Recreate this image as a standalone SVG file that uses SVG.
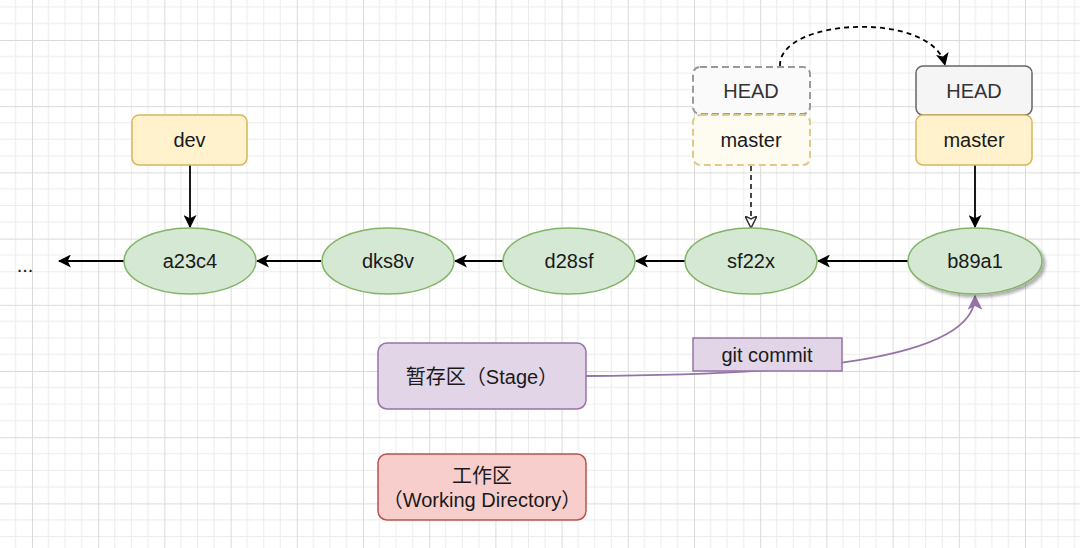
<svg xmlns="http://www.w3.org/2000/svg" width="1080" height="548" viewBox="0 0 1080 548">
<defs>
<pattern id="grid" patternUnits="userSpaceOnUse" x="32" y="40" width="66.2" height="66.2">
<path d="M16.55 0V66.2M33.1 0V66.2M49.65 0V66.2M0 16.55H66.2M0 33.1H66.2M0 49.65H66.2" stroke="#ececec" stroke-width="1" fill="none"/>
<path d="M0.5 0V66.2M0 0.5H66.2" stroke="#dadada" stroke-width="1" fill="none"/>
</pattern>
<marker id="arr" viewBox="0 0 12 12" refX="11" refY="6" markerWidth="13" markerHeight="13" markerUnits="userSpaceOnUse" orient="auto">
<path d="M0 0L12 6L0 12L3 6Z" fill="#000"/>
</marker>
<marker id="arrP" viewBox="0 0 12 12" refX="11" refY="6" markerWidth="15" markerHeight="15" markerUnits="userSpaceOnUse" orient="auto">
<path d="M0 0L12 6L0 12L3 6Z" fill="#9673a6"/>
</marker>
<marker id="arrO" viewBox="0 0 12 12" refX="11" refY="6" markerWidth="12" markerHeight="12" markerUnits="userSpaceOnUse" orient="auto">
<path d="M0 0L12 6L0 12L3 6Z" fill="#fff" stroke="#333" stroke-width="1.5"/>
</marker>
<filter id="shadow" x="-20%" y="-20%" width="140%" height="160%">
<feDropShadow dx="3" dy="3" stdDeviation="1.5" flood-color="#000" flood-opacity="0.3"/>
</filter>
</defs>
<style>
text{font-family:"Liberation Sans",Arial,"Noto Sans CJK SC",sans-serif;font-size:20px;fill:#1a1a1a;text-anchor:middle;dominant-baseline:central}
.commit{fill:#d5e8d4;stroke:#82b366;stroke-width:1.5}
.branch{fill:#fff2cc;stroke:#d6b656;stroke-width:1.5}
.head{fill:#f5f5f5;stroke:#666;stroke-width:1.5}
.edge{stroke:#000;stroke-width:1.8;fill:none}
</style>
<rect width="1080" height="548" fill="#fff"/>
<rect width="1080" height="548" fill="url(#grid)"/>
<g id="connectors">
<path class="edge" d="M124 261H59" marker-end="url(#arr)"/>
<path class="edge" d="M321 261H257" marker-end="url(#arr)"/>
<path class="edge" d="M503 261H455" marker-end="url(#arr)"/>
<path class="edge" d="M685 261H636" marker-end="url(#arr)"/>
<path class="edge" d="M908 261H818" marker-end="url(#arr)"/>
<path class="edge" d="M190 165V227" marker-end="url(#arr)"/>
<path class="edge" d="M975 165V227" marker-end="url(#arr)"/>
<path d="M751 166V227" stroke="#333" stroke-width="1.8" stroke-dasharray="5 4" fill="none" marker-end="url(#arrO)"/>
<path d="M780 66C778 18 932 10 945 65" stroke="#000" stroke-width="1.8" stroke-dasharray="5 4" fill="none" marker-end="url(#arr)"/>
<path d="M586 376C790 375 975 362 975 296" stroke="#9673a6" stroke-width="1.8" fill="none" marker-end="url(#arrP)"/>
</g>
<g id="ellipsis"><text x="25" y="265">...</text></g>
<g id="a23c4"><ellipse class="commit" cx="190" cy="261" rx="66" ry="33"/><text x="190" y="261">a23c4</text></g>
<g id="dks8v"><ellipse class="commit" cx="388" cy="261" rx="66" ry="33"/><text x="388" y="261">dks8v</text></g>
<g id="d28sf"><ellipse class="commit" cx="569" cy="261" rx="66" ry="33"/><text x="569" y="261">d28sf</text></g>
<g id="sf22x"><ellipse class="commit" cx="751" cy="261" rx="66" ry="33"/><text x="751" y="261">sf22x</text></g>
<g id="b89a1"><ellipse class="commit" cx="975" cy="261" rx="67" ry="33" filter="url(#shadow)"/><text x="975" y="261">b89a1</text></g>
<g id="dev"><rect class="branch" x="132" y="115" width="115" height="50" rx="7"/><text x="189.5" y="140">dev</text></g>
<g id="head-old"><rect x="693" y="67" width="117" height="47" rx="7" fill="#fafafa" stroke="#999" stroke-width="2" stroke-dasharray="7 4"/><text x="751" y="91" style="fill:#333">HEAD</text></g>
<g id="master-old"><rect x="693" y="115" width="117" height="50" rx="7" fill="#fefbf0" stroke="#dccb8a" stroke-width="2" stroke-dasharray="7 4"/><text x="751" y="140">master</text></g>
<g id="head-new"><rect class="head" x="916" y="66" width="116" height="49" rx="7"/><text x="974" y="91" style="fill:#333">HEAD</text></g>
<g id="master-new"><rect class="branch" x="916" y="115" width="116" height="50" rx="7"/><text x="974" y="140">master</text></g>
<g id="stage"><rect x="378" y="343" width="208" height="66" rx="9" fill="#e1d5e7" stroke="#9673a6" stroke-width="1.5"/><text x="482" y="377">暂存区（Stage）</text></g>
<g id="git-commit"><rect x="693" y="338" width="149" height="33" fill="#e1d5e7" stroke="#9673a6" stroke-width="1.5"/><text x="767" y="355">git commit</text></g>
<g id="working"><rect x="378" y="454" width="208" height="66" rx="9" fill="#f8cecc" stroke="#b85450" stroke-width="1.5"/><text x="482" y="476">工作区</text><text x="482" y="500">（Working Directory）</text></g>
</svg>
